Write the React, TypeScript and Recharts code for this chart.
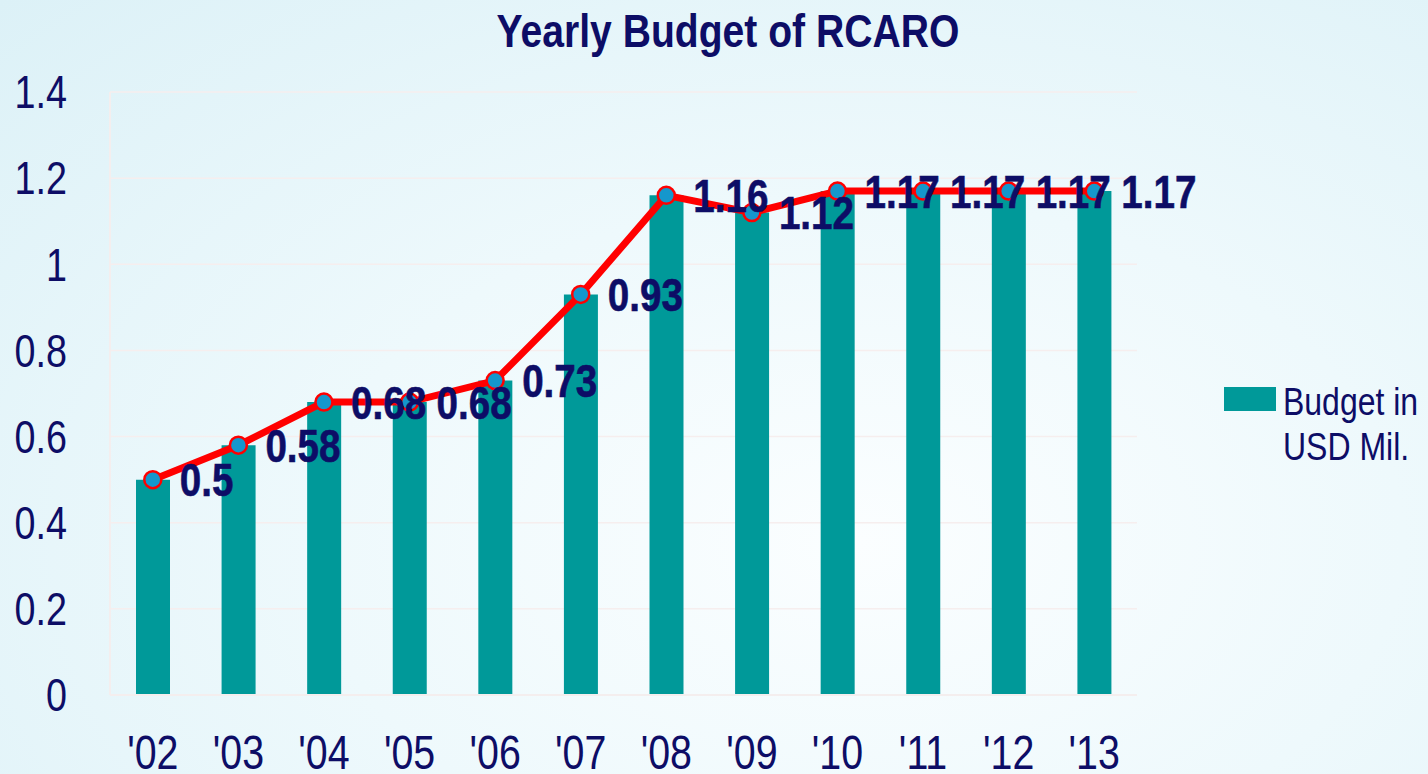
import React from "react";
import {
  ComposedChart,
  Bar,
  Line,
  XAxis,
  YAxis,
  CartesianGrid,
  LabelList,
  Legend,
} from "recharts";

const years = ["'02", "'03", "'04", "'05", "'06", "'07", "'08", "'09", "'10", "'11", "'12", "'13"];
const budget = [0.5, 0.58, 0.68, 0.68, 0.73, 0.93, 1.16, 1.12, 1.17, 1.17, 1.17, 1.17];
const yTicks = [0, 0.2, 0.4, 0.6, 0.8, 1, 1.2, 1.4];

const data = years.map((year, i) => ({ year, budget: budget[i] }));

// no narrow font installed, so squeeze Liberation Sans horizontally
const FONT = "'Liberation Sans', Arial, sans-serif";
const SQUEEZE = 0.82;
const NAVY = "#0d0d66";
const TEAL = "#009999";

const XTick = (props: any) => {
  const { x, y, payload } = props;
  return (
    <g transform={`translate(${x},${y}) scale(${SQUEEZE},1)`}>
      <text textAnchor="middle" dy="0.71em" fill={NAVY} fontFamily={FONT} fontSize={48}>
        {payload.value}
      </text>
    </g>
  );
};

const YTick = (props: any) => {
  const { x, y, payload } = props;
  return (
    <g transform={`translate(${x},${y}) scale(${SQUEEZE},1)`}>
      <text textAnchor="end" dy="0.355em" fill={NAVY} fontFamily={FONT} fontSize={46}>
        {payload.value}
      </text>
    </g>
  );
};

const renderLabel = (props: any) => {
  const { x, y, value } = props;
  return (
    <g transform={`translate(${x + 27},${y}) scale(0.84,1)`}>
      <text
        dy="0.36em"
        fill={NAVY}
        stroke={NAVY}
        strokeWidth={0.6}
        fontFamily={FONT}
        fontSize={46}
        fontWeight="bold"
      >
        {value}
      </text>
    </g>
  );
};

const renderLegend = () => (
  <div style={{ display: "flex", alignItems: "flex-start", fontFamily: FONT, color: NAVY }}>
    <div style={{ width: 52, height: 24, background: TEAL, marginTop: 8, marginRight: 7, flex: "none" }} />
    <div
      style={{
        fontSize: 39,
        lineHeight: "45px",
        whiteSpace: "nowrap",
        transform: `scaleX(${SQUEEZE})`,
        transformOrigin: "left center",
      }}
    >
      Budget in
      <br />
      USD Mil.
    </div>
  </div>
);

export default function App() {
  return (
    <div
      style={{
        position: "absolute",
        left: 0,
        top: 0,
        width: 1428,
        height: 774,
        background:
          "radial-gradient(ellipse at 60% 70%, #fbfeff 0%, #eef9fc 45%, #dcf1f7 100%)",
        overflow: "hidden",
      }}
    >
      <div
        style={{
          position: "absolute",
          left: 728,
          top: 4,
          fontFamily: FONT,
          fontWeight: "bold",
          fontSize: 46,
          color: NAVY,
          whiteSpace: "nowrap",
          transform: "translateX(-50%) scaleX(0.85)",
          transformOrigin: "center",
        }}
      >
        Yearly Budget of RCARO
      </div>
      <ComposedChart
        width={1428}
        height={774}
        data={data}
        margin={{ top: 92, right: 87, left: 0, bottom: 0 }}
        style={{ position: "absolute", left: 0, top: 0 }}
      >
        <CartesianGrid vertical={false} stroke="#f6eeee" strokeWidth={1.5} />
        <XAxis
          dataKey="year"
          height={79}
          axisLine={{ stroke: "#f4eeee", strokeWidth: 2 }}
          tickLine={false}
          tickSize={0}
          tickMargin={40}
          tick={<XTick />}
          interval={0}
        />
        <YAxis
          width={110}
          domain={[0, 1.4]}
          ticks={yTicks}
          axisLine={{ stroke: "#f4eeee", strokeWidth: 2 }}
          tickLine={false}
          tickSize={0}
          tickMargin={43}
          tick={<YTick />}
        />
        <Bar dataKey="budget" fill={TEAL} barSize={34} isAnimationActive={false} legendType="rect" />
        <Line
          dataKey="budget"
          stroke="#ff0000"
          strokeWidth={7}
          dot={{ r: 8.5, fill: "#1597cc", stroke: "#ff0000", strokeWidth: 2.5 }}
          isAnimationActive={false}
          legendType="none"
        >
          <LabelList dataKey="budget" content={renderLabel} />
        </Line>
        <Legend
          layout="horizontal"
          verticalAlign="middle"
          align="right"
          content={renderLegend}
          wrapperStyle={{ position: "absolute", left: 1224, top: 379, width: 204 }}
        />
      </ComposedChart>
    </div>
  );
}
